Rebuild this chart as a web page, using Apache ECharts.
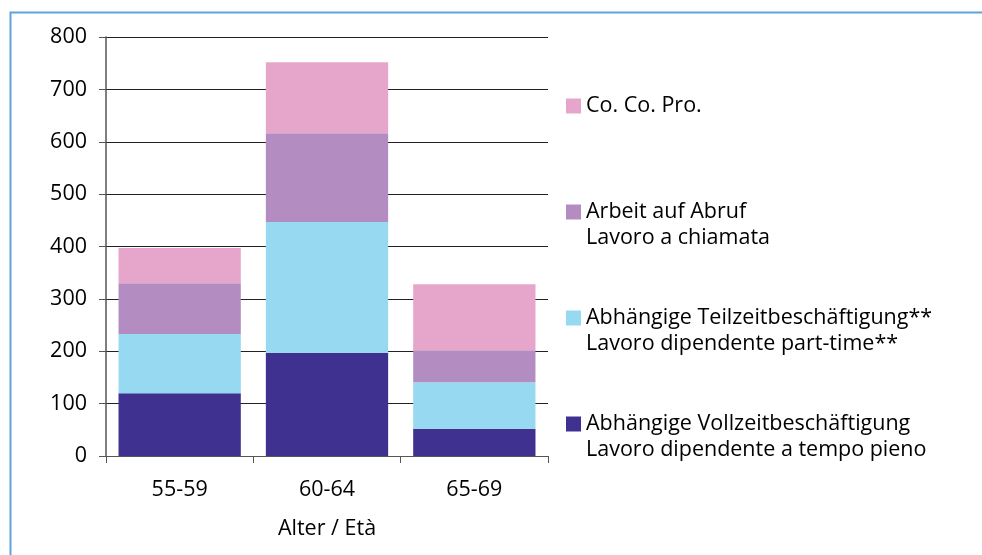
<!DOCTYPE html>
<html>
<head>
<meta charset="utf-8">
<script src="https://cdn.jsdelivr.net/npm/echarts@6/dist/echarts.min.js"></script>
<style>
  html, body { margin: 0; padding: 0; background: #fff; }
  #main { width: 982px; height: 555px; }
</style>
</head>
<body>
<div id="main"></div>
<script>
// Altersgruppen / fasce d'età
var categories = ['55-59', '60-64', '65-69'];
// Werte je Beschäftigungsform (von unten nach oben gestapelt)
var vollzeit = [120, 197, 52];
var teilzeit = [113, 250, 89];
var abruf = [97, 169, 61];
var cocopro = [67, 136, 126];
var yTicks = [0, 100, 200, 300, 400, 500, 600, 700, 800];

var names = [
  'Abhängige Vollzeitbeschäftigung\nLavoro dipendente a tempo pieno',
  'Abhängige Teilzeitbeschäftigung**\nLavoro dipendente part-time**',
  'Arbeit auf Abruf\nLavoro a chiamata',
  'Co. Co. Pro.'
];
var colors = ['#3f3190', '#97d9f0', '#b38dc1', '#e6a6cb'];
var FONT = 'Open Sans';
var FS = 21.5;

var myChart = echarts.init(document.getElementById('main'));
myChart.setOption({
  animation: false,
  backgroundColor: '#fff',
  textStyle: { fontFamily: FONT },
  graphic: [{
    type: 'rect',
    shape: { x: 10.5, y: 12.5, width: 1200, height: 800 },
    style: { fill: 'none', stroke: '#5fa3dc', lineWidth: 2 },
    silent: true
  }],
  grid: { left: 106, right: 434, top: 37, bottom: 99 },
  legend: {
    orient: 'vertical',
    left: 566,
    top: 67,
    padding: 0,
    itemWidth: 15,
    itemHeight: 15,
    itemGap: 28,
    icon: 'rect',
    selectedMode: false,
    data: names.slice().reverse(),
    formatter: function (name) {
      // leerer Zeilenvorsatz, damit das Symbol auf Höhe der ersten Zeile steht
      var lines = name.split('\n');
      if (lines.length < 2) lines.push(' ');
      return ' \n' + lines.join('\n');
    },
    textStyle: { fontFamily: FONT, fontSize: FS, lineHeight: 26, color: '#000' }
  },
  xAxis: {
    type: 'category',
    data: categories,
    name: 'Alter / Età',
    nameLocation: 'middle',
    nameGap: 62,
    nameTextStyle: { fontFamily: FONT, fontSize: FS, color: '#000' },
    axisLine: { lineStyle: { color: '#555', width: 1 } },
    axisTick: { show: true, length: 7, lineStyle: { color: '#555' } },
    axisLabel: { margin: 23, fontSize: FS, color: '#000', fontFamily: FONT }
  },
  yAxis: {
    type: 'value',
    min: yTicks[0],
    max: yTicks[yTicks.length - 1],
    interval: 100,
    axisLine: { show: true, lineStyle: { color: '#555', width: 1.5 } },
    axisTick: { show: true, length: 7, lineStyle: { color: '#555' } },
    axisLabel: { margin: 19, fontSize: FS, color: '#000', fontFamily: FONT },
    splitLine: { lineStyle: { color: '#222', width: 1 } }
  },
  series: [
    { name: names[0], type: 'bar', stack: 'a', data: vollzeit, barCategoryGap: '17%', itemStyle: { color: colors[0] } },
    { name: names[1], type: 'bar', stack: 'a', data: teilzeit, itemStyle: { color: colors[1] } },
    { name: names[2], type: 'bar', stack: 'a', data: abruf, itemStyle: { color: colors[2] } },
    { name: names[3], type: 'bar', stack: 'a', data: cocopro, itemStyle: { color: colors[3] } }
  ]
});
</script>
</body>
</html>
